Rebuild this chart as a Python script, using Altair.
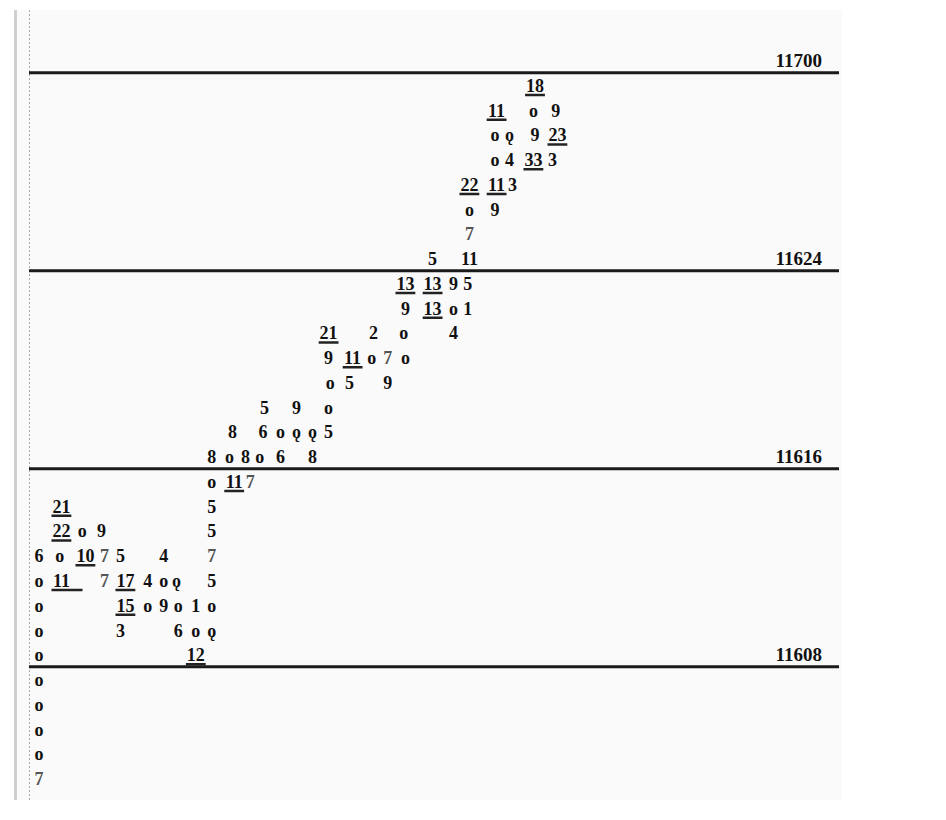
import altair as alt
import pandas as pd

# ---- data (price row, column slot, symbol, underline flag) ----
# underline: 0 = none, 1 = underlined, 2 = underlined with a longer tail
PRICES = (
    [11631]
    + [11630] * 3
    + [11629] * 4
    + [11628] * 4
    + [11627] * 3
    + [11626] * 2
    + [11625]
    + [11624] * 2
    + [11623] * 4
    + [11622] * 4
    + [11621] * 4
    + [11620] * 5
    + [11619] * 3
    + [11618] * 3
    + [11617] * 6
    + [11616] * 6
    + [11615] * 3
    + [11614] * 2
    + [11613] * 4
    + [11612] * 7
    + [11611] * 8
    + [11610] * 7
    + [11609] * 5
    + [11608] * 2
    + [11607, 11606, 11605, 11604, 11603]
)
COLS = [
    31.0,
    28.6, 30.9, 32.3,
    28.5, 29.4, 31.0, 32.4,
    28.5, 29.4, 30.9, 32.1,
    26.9, 28.6, 29.6,
    26.9, 28.5,
    26.9,
    24.6, 26.9,
    22.9, 24.6, 25.9, 26.8,
    22.9, 24.6, 25.9, 26.8,
    18.1, 20.9, 22.8, 25.9,
    18.1, 19.6, 20.8, 21.8, 22.9,
    18.2, 19.4, 21.8,
    14.1, 16.1, 18.1,
    12.1, 14.0, 15.1, 16.1, 17.1, 18.1,
    10.8, 11.9, 12.9, 13.8, 15.1, 17.1,
    10.8, 12.2, 13.2,
    1.4, 10.8,
    1.4, 2.7, 3.9, 10.8,
    0.0, 1.3, 2.9, 4.1, 5.1, 7.8, 10.8,
    0.0, 1.4, 4.1, 5.4, 6.8, 7.8, 8.6, 10.8,
    0.0, 5.4, 6.8, 7.8, 8.7, 9.8, 10.8,
    0.0, 5.1, 8.7, 9.8, 10.8,
    0.0, 9.8,
    0.0, 0.0, 0.0, 0.0, 0.0,
]
SYMBOLS = [
    "18",
    "11", "o", "9",
    "o", "ǫ", "9", "23",
    "o", "4", "33", "3",
    "22", "11", "3",
    "o", "9",
    "7",
    "5", "11",
    "13", "13", "9", "5",
    "9", "13", "o", "1",
    "21", "2", "o", "4",
    "9", "11", "o", "7", "o",
    "o", "5", "9",
    "5", "9", "o",
    "8", "6", "o", "ǫ", "ǫ", "5",
    "8", "o", "8", "o", "6", "8",
    "o", "11", "7",
    "21", "5",
    "22", "o", "9", "5",
    "6", "o", "10", "7", "5", "4", "7",
    "o", "11", "7", "17", "4", "o", "ǫ", "5",
    "o", "15", "o", "9", "o", "1", "o",
    "o", "3", "6", "o", "ǫ",
    "o", "12",
    "o", "o", "o", "o", "7",
]
UNDERLINE = [
    1,
    1, 0, 0,
    0, 0, 0, 1,
    0, 0, 1, 0,
    1, 1, 0,
    0, 0,
    0,
    0, 0,
    1, 1, 0, 0,
    0, 1, 0, 0,
    1, 0, 0, 0,
    0, 1, 0, 0, 0,
    0, 0, 0,
    0, 0, 0,
    0, 0, 0, 0, 0, 0,
    0, 0, 0, 0, 0, 0,
    0, 1, 0,
    1, 0,
    1, 0, 0, 0,
    0, 0, 1, 0, 0, 0, 0,
    0, 2, 0, 1, 0, 0, 0, 0,
    0, 1, 0, 0, 0, 0, 0,
    0, 0, 0, 0, 0,
    0, 1,
    0, 0, 0, 0, 0,
]

LEVELS = [11608, 11616, 11624, 11632]
LEVEL_LABELS = ["11608", "11616", "11624", "11700"]

df = pd.DataFrame({"price": PRICES, "col": COLS, "mark": SYMBOLS, "ul": UNDERLINE})
df["ul_x1"] = df["col"] - 0.62
df["ul_x2"] = df["col"] + 0.62 + (df["ul"] == 2) * 0.7
ul_df = df[df["ul"] > 0]

lv = pd.DataFrame({"level": LEVELS, "label": LEVEL_LABELS})

x_scale = alt.Scale(domain=[-1.5625, 50.1875], nice=False, zero=False)
y_scale = alt.Scale(domain=[11602.394, 11634.313], nice=False, zero=False)

FONT = "Liberation Serif"

frame = pd.DataFrame({"k": [0]})
left_border = alt.Chart(frame).mark_rule(color="#cfcfcf", strokeWidth=3).encode(
    x=alt.value(1.5), y=alt.value(0), y2=alt.value(790)
)
dotted = alt.Chart(frame).mark_rule(color="#aaaaaa", strokeWidth=1, strokeDash=[2, 2]).encode(
    x=alt.value(15.5), y=alt.value(0), y2=alt.value(790)
)

level_rules = alt.Chart(lv).mark_rule(color="#1a1a1a", strokeWidth=3, yOffset=5.5).encode(
    y=alt.Y("level:Q", scale=y_scale, axis=None),
    x=alt.value(15),
    x2=alt.value(825),
)
level_text = alt.Chart(lv).mark_text(
    font=FONT, fontWeight="bold", fontSize=19, align="right", baseline="alphabetic", color="#111111"
).encode(
    y=alt.Y("level:Q", scale=y_scale, axis=None),
    x=alt.value(808),
    text="label:N",
)

underlines = alt.Chart(ul_df).mark_rule(color="#222222", strokeWidth=2.5, yOffset=3).encode(
    x=alt.X("ul_x1:Q", scale=x_scale, axis=None),
    x2="ul_x2:Q",
    y=alt.Y("price:Q", scale=y_scale, axis=None),
)

symbols = alt.Chart(df).mark_text(
    font=FONT, fontWeight="bold", fontSize=18, align="center", baseline="alphabetic"
).encode(
    x=alt.X("col:Q", scale=x_scale, axis=None),
    y=alt.Y("price:Q", scale=y_scale, axis=None),
    text="mark:N",
    color=alt.condition(alt.datum.mark == "7", alt.value("#555555"), alt.value("#111111")),
)

chart = (
    alt.layer(left_border, dotted, level_rules, level_text, underlines, symbols)
    .properties(
        width=828,
        height=790,
        autosize="none",
        padding={"left": 6, "top": 2, "right": 0, "bottom": 0},
        background="white",
    )
    .configure_view(stroke=None, fill="#fafafa")
)

chart.save("out.html", embed_options={"renderer": "svg", "actions": False})
